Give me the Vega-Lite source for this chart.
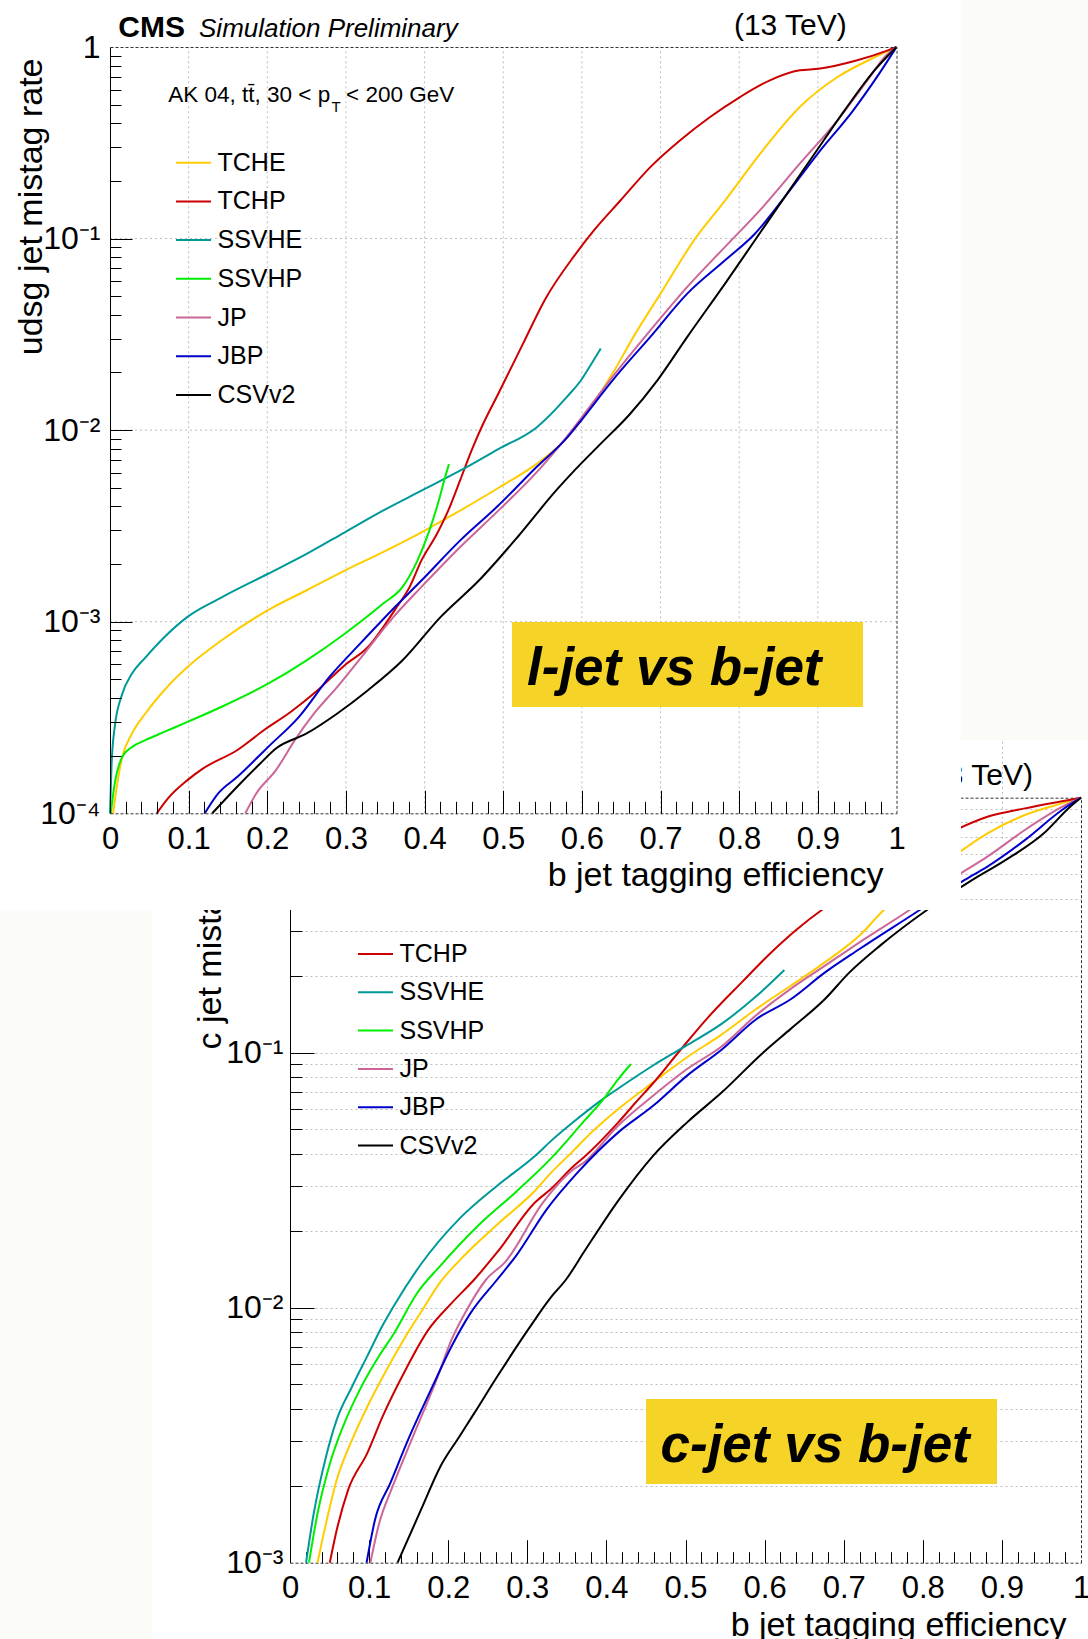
{
"$schema":"https://vega.github.io/schema/vega-lite/v6.json",
"width":1088,"height":1639,"autosize":"none","padding":0,"background":"white",
"config":{"font":"Liberation Sans","view":{"stroke":null},"axis":{"grid":false,"labelColor":"#000","titleColor":"#000","titleFontWeight":"normal","labelFont":"Liberation Sans","titleFont":"Liberation Sans"},"legend":{"labelFont":"Liberation Sans","labelColor":"#000"}},
"datasets":{
"top":[
{"s":"TCHE","x":0.004,"y":0.0001},{"s":"TCHE","x":0.01,"y":0.00015},{"s":"TCHE","x":0.0156,"y":0.000197},{"s":"TCHE","x":0.028,"y":0.000261},{"s":"TCHE","x":0.045,"y":0.000332},{"s":"TCHE","x":0.069,"y":0.000439},{"s":"TCHE","x":0.0985,"y":0.00058},{"s":"TCHE","x":0.142,"y":0.0008},{"s":"TCHE","x":0.201,"y":0.00115},{"s":"TCHE","x":0.25,"y":0.00146},{"s":"TCHE","x":0.2985,"y":0.00185},{"s":"TCHE","x":0.347,"y":0.00231},{"s":"TCHE","x":0.396,"y":0.00293},{"s":"TCHE","x":0.445,"y":0.0038},{"s":"TCHE","x":0.4937,"y":0.00499},{"s":"TCHE","x":0.542,"y":0.00665},{"s":"TCHE","x":0.571,"y":0.0083},{"s":"TCHE","x":0.6057,"y":0.0122},{"s":"TCHE","x":0.639,"y":0.0198},{"s":"TCHE","x":0.668,"y":0.0319},{"s":"TCHE","x":0.7,"y":0.0516},{"s":"TCHE","x":0.744,"y":0.1},{"s":"TCHE","x":0.782,"y":0.158},{"s":"TCHE","x":0.83,"y":0.289},{"s":"TCHE","x":0.877,"y":0.486},{"s":"TCHE","x":0.925,"y":0.697},{"s":"TCHE","x":0.973,"y":0.887},{"s":"TCHE","x":1,"y":1},
{"s":"TCHP","x":0.0595,"y":0.0001},{"s":"TCHP","x":0.074,"y":0.00012},{"s":"TCHP","x":0.0985,"y":0.000149},{"s":"TCHP","x":0.118,"y":0.000171},{"s":"TCHP","x":0.162,"y":0.000214},{"s":"TCHP","x":0.196,"y":0.000272},{"s":"TCHP","x":0.23,"y":0.000339},{"s":"TCHP","x":0.264,"y":0.000439},{"s":"TCHP","x":0.2985,"y":0.000593},{"s":"TCHP","x":0.328,"y":0.000738},{"s":"TCHP","x":0.362,"y":0.00115},{"s":"TCHP","x":0.381,"y":0.00152},{"s":"TCHP","x":0.396,"y":0.00209},{"s":"TCHP","x":0.4156,"y":0.00287},{"s":"TCHP","x":0.43,"y":0.0038},{"s":"TCHP","x":0.445,"y":0.00545},{"s":"TCHP","x":0.4595,"y":0.0078},{"s":"TCHP","x":0.474,"y":0.0107},{"s":"TCHP","x":0.4937,"y":0.0155},{"s":"TCHP","x":0.525,"y":0.0282},{"s":"TCHP","x":0.553,"y":0.048},{"s":"TCHP","x":0.591,"y":0.082},{"s":"TCHP","x":0.615,"y":0.11},{"s":"TCHP","x":0.649,"y":0.158},{"s":"TCHP","x":0.687,"y":0.236},{"s":"TCHP","x":0.725,"y":0.326},{"s":"TCHP","x":0.763,"y":0.431},{"s":"TCHP","x":0.801,"y":0.548},{"s":"TCHP","x":0.839,"y":0.67},{"s":"TCHP","x":0.877,"y":0.756},{"s":"TCHP","x":0.901,"y":0.77},{"s":"TCHP","x":0.949,"y":0.85},{"s":"TCHP","x":0.989,"y":0.96},{"s":"TCHP","x":1,"y":1},
{"s":"SSVHE","x":0.0,"y":0.0001},{"s":"SSVHE","x":0.002,"y":0.00018},{"s":"SSVHE","x":0.006,"y":0.000282},{"s":"SSVHE","x":0.0156,"y":0.00042},{"s":"SSVHE","x":0.028,"y":0.000536},{"s":"SSVHE","x":0.045,"y":0.00065},{"s":"SSVHE","x":0.069,"y":0.00083},{"s":"SSVHE","x":0.0985,"y":0.00106},{"s":"SSVHE","x":0.142,"y":0.00134},{"s":"SSVHE","x":0.201,"y":0.00178},{"s":"SSVHE","x":0.25,"y":0.00226},{"s":"SSVHE","x":0.2985,"y":0.00293},{"s":"SSVHE","x":0.347,"y":0.0038},{"s":"SSVHE","x":0.396,"y":0.00483},{"s":"SSVHE","x":0.445,"y":0.00614},{"s":"SSVHE","x":0.4937,"y":0.00796},{"s":"SSVHE","x":0.542,"y":0.0103},{"s":"SSVHE","x":0.5815,"y":0.015},{"s":"SSVHE","x":0.6,"y":0.0185},{"s":"SSVHE","x":0.61,"y":0.0215},{"s":"SSVHE","x":0.624,"y":0.0267},
{"s":"SSVHP","x":0.001,"y":0.0001},{"s":"SSVHP","x":0.006,"y":0.000143},{"s":"SSVHP","x":0.0156,"y":0.000197},{"s":"SSVHP","x":0.028,"y":0.000222},{"s":"SSVHP","x":0.045,"y":0.000241},{"s":"SSVHP","x":0.069,"y":0.000266},{"s":"SSVHP","x":0.0985,"y":0.0003},{"s":"SSVHP","x":0.142,"y":0.00036},{"s":"SSVHP","x":0.201,"y":0.000475},{"s":"SSVHP","x":0.25,"y":0.000629},{"s":"SSVHP","x":0.2985,"y":0.000866},{"s":"SSVHP","x":0.347,"y":0.00124},{"s":"SSVHP","x":0.372,"y":0.00152},{"s":"SSVHP","x":0.391,"y":0.00209},{"s":"SSVHP","x":0.406,"y":0.00299},{"s":"SSVHP","x":0.418,"y":0.00428},{"s":"SSVHP","x":0.426,"y":0.00567},{"s":"SSVHP","x":0.431,"y":0.00665},
{"s":"JP","x":0.172,"y":0.0001},{"s":"JP","x":0.186,"y":0.000127},{"s":"JP","x":0.211,"y":0.000168},{"s":"JP","x":0.235,"y":0.000241},{"s":"JP","x":0.2595,"y":0.000332},{"s":"JP","x":0.289,"y":0.000457},{"s":"JP","x":0.323,"y":0.00068},{"s":"JP","x":0.357,"y":0.00102},{"s":"JP","x":0.396,"y":0.00152},{"s":"JP","x":0.445,"y":0.00245},{"s":"JP","x":0.4937,"y":0.0038},{"s":"JP","x":0.542,"y":0.006},{"s":"JP","x":0.5766,"y":0.0088},{"s":"JP","x":0.606,"y":0.0126},{"s":"JP","x":0.639,"y":0.019},{"s":"JP","x":0.687,"y":0.0332},{"s":"JP","x":0.734,"y":0.056},{"s":"JP","x":0.782,"y":0.0905},{"s":"JP","x":0.83,"y":0.146},{"s":"JP","x":0.877,"y":0.246},{"s":"JP","x":0.925,"y":0.414},{"s":"JP","x":0.963,"y":0.67},{"s":"JP","x":0.987,"y":0.905},{"s":"JP","x":1,"y":1},
{"s":"JBP","x":0.1205,"y":0.0001},{"s":"JBP","x":0.1376,"y":0.000127},{"s":"JBP","x":0.162,"y":0.000155},{"s":"JBP","x":0.201,"y":0.000222},{"s":"JBP","x":0.24,"y":0.000318},{"s":"JBP","x":0.279,"y":0.000515},{"s":"JBP","x":0.318,"y":0.000768},{"s":"JBP","x":0.362,"y":0.00119},{"s":"JBP","x":0.396,"y":0.00164},{"s":"JBP","x":0.445,"y":0.00265},{"s":"JBP","x":0.4937,"y":0.00404},{"s":"JBP","x":0.542,"y":0.0064},{"s":"JBP","x":0.5815,"y":0.00916},{"s":"JBP","x":0.601,"y":0.0115},{"s":"JBP","x":0.639,"y":0.0182},{"s":"JBP","x":0.687,"y":0.0307},{"s":"JBP","x":0.734,"y":0.0516},{"s":"JBP","x":0.782,"y":0.077},{"s":"JBP","x":0.82,"y":0.106},{"s":"JBP","x":0.858,"y":0.165},{"s":"JBP","x":0.9,"y":0.278},{"s":"JBP","x":0.945,"y":0.467},{"s":"JBP","x":0.978,"y":0.726},{"s":"JBP","x":1,"y":1},
{"s":"CSVv2","x":0.13,"y":0.0001},{"s":"CSVv2","x":0.162,"y":0.000138},{"s":"CSVv2","x":0.191,"y":0.000182},{"s":"CSVv2","x":0.211,"y":0.000218},{"s":"CSVv2","x":0.25,"y":0.000261},{"s":"CSVv2","x":0.289,"y":0.000332},{"s":"CSVv2","x":0.328,"y":0.000439},{"s":"CSVv2","x":0.372,"y":0.000629},{"s":"CSVv2","x":0.4205,"y":0.00106},{"s":"CSVv2","x":0.469,"y":0.00164},{"s":"CSVv2","x":0.518,"y":0.00276},{"s":"CSVv2","x":0.567,"y":0.00483},{"s":"CSVv2","x":0.5912,"y":0.0062},{"s":"CSVv2","x":0.624,"y":0.0085},{"s":"CSVv2","x":0.66,"y":0.012},{"s":"CSVv2","x":0.696,"y":0.0182},{"s":"CSVv2","x":0.734,"y":0.0307},{"s":"CSVv2","x":0.782,"y":0.0582},{"s":"CSVv2","x":0.82,"y":0.098},{"s":"CSVv2","x":0.858,"y":0.165},{"s":"CSVv2","x":0.896,"y":0.278},{"s":"CSVv2","x":0.934,"y":0.467},{"s":"CSVv2","x":0.972,"y":0.755},{"s":"CSVv2","x":1,"y":1}
],
"bot":[
{"s":"TCHE","x":0.0348,"y":0.001},{"s":"TCHE","x":0.0445,"y":0.00138},{"s":"TCHE","x":0.059,"y":0.00211},{"s":"TCHE","x":0.0784,"y":0.00303},{"s":"TCHE","x":0.0977,"y":0.00409},{"s":"TCHE","x":0.122,"y":0.0057},{"s":"TCHE","x":0.146,"y":0.0077},{"s":"TCHE","x":0.1655,"y":0.0096},{"s":"TCHE","x":0.19,"y":0.0126},{"s":"TCHE","x":0.214,"y":0.0153},{"s":"TCHE","x":0.262,"y":0.0212},{"s":"TCHE","x":0.31,"y":0.0288},{"s":"TCHE","x":0.3287,"y":0.0335},{"s":"TCHE","x":0.359,"y":0.0415},{"s":"TCHE","x":0.372,"y":0.0457},{"s":"TCHE","x":0.415,"y":0.0601},{"s":"TCHE","x":0.459,"y":0.0765},{"s":"TCHE","x":0.502,"y":0.096},{"s":"TCHE","x":0.546,"y":0.118},{"s":"TCHE","x":0.589,"y":0.148},{"s":"TCHE","x":0.633,"y":0.183},{"s":"TCHE","x":0.676,"y":0.226},{"s":"TCHE","x":0.72,"y":0.288},{"s":"TCHE","x":0.752,"y":0.366},{"s":"TCHE","x":0.8,"y":0.47},{"s":"TCHE","x":0.8415,"y":0.596},{"s":"TCHE","x":0.8817,"y":0.725},{"s":"TCHE","x":0.929,"y":0.855},{"s":"TCHE","x":0.976,"y":0.95},{"s":"TCHE","x":1,"y":1},
{"s":"TCHP","x":0.0503,"y":0.001},{"s":"TCHP","x":0.059,"y":0.00134},{"s":"TCHP","x":0.0735,"y":0.00193},{"s":"TCHP","x":0.0977,"y":0.00269},{"s":"TCHP","x":0.117,"y":0.00374},{"s":"TCHP","x":0.146,"y":0.0057},{"s":"TCHP","x":0.175,"y":0.0082},{"s":"TCHP","x":0.204,"y":0.0104},{"s":"TCHP","x":0.233,"y":0.0129},{"s":"TCHP","x":0.262,"y":0.0165},{"s":"TCHP","x":0.31,"y":0.0259},{"s":"TCHP","x":0.3287,"y":0.029},{"s":"TCHP","x":0.359,"y":0.036},{"s":"TCHP","x":0.372,"y":0.039},{"s":"TCHP","x":0.415,"y":0.0533},{"s":"TCHP","x":0.437,"y":0.0638},{"s":"TCHP","x":0.459,"y":0.0759},{"s":"TCHP","x":0.493,"y":0.102},{"s":"TCHP","x":0.528,"y":0.137},{"s":"TCHP","x":0.572,"y":0.19},{"s":"TCHP","x":0.607,"y":0.245},{"s":"TCHP","x":0.641,"y":0.305},{"s":"TCHP","x":0.674,"y":0.366},{"s":"TCHP","x":0.72,"y":0.45},{"s":"TCHP","x":0.78,"y":0.58},{"s":"TCHP","x":0.8415,"y":0.747},{"s":"TCHP","x":0.8817,"y":0.842},{"s":"TCHP","x":0.929,"y":0.908},{"s":"TCHP","x":1,"y":1},
{"s":"SSVHE","x":0.0203,"y":0.001},{"s":"SSVHE","x":0.03,"y":0.00156},{"s":"SSVHE","x":0.0445,"y":0.00253},{"s":"SSVHE","x":0.059,"y":0.00363},{"s":"SSVHE","x":0.0784,"y":0.0049},{"s":"SSVHE","x":0.0977,"y":0.00646},{"s":"SSVHE","x":0.117,"y":0.00851},{"s":"SSVHE","x":0.1316,"y":0.0102},{"s":"SSVHE","x":0.1655,"y":0.0148},{"s":"SSVHE","x":0.214,"y":0.0223},{"s":"SSVHE","x":0.262,"y":0.0301},{"s":"SSVHE","x":0.31,"y":0.0394},{"s":"SSVHE","x":0.3287,"y":0.0447},{"s":"SSVHE","x":0.359,"y":0.0537},{"s":"SSVHE","x":0.392,"y":0.0646},{"s":"SSVHE","x":0.415,"y":0.0724},{"s":"SSVHE","x":0.459,"y":0.0891},{"s":"SSVHE","x":0.502,"y":0.107},{"s":"SSVHE","x":0.546,"y":0.13},{"s":"SSVHE","x":0.589,"y":0.166},{"s":"SSVHE","x":0.625,"y":0.211},
{"s":"SSVHP","x":0.024,"y":0.001},{"s":"SSVHP","x":0.0348,"y":0.00156},{"s":"SSVHP","x":0.0493,"y":0.00238},{"s":"SSVHP","x":0.0687,"y":0.00352},{"s":"SSVHP","x":0.088,"y":0.00475},{"s":"SSVHP","x":0.112,"y":0.00642},{"s":"SSVHP","x":0.1316,"y":0.00794},{"s":"SSVHP","x":0.1606,"y":0.0114},{"s":"SSVHP","x":0.19,"y":0.0146},{"s":"SSVHP","x":0.238,"y":0.021},{"s":"SSVHP","x":0.286,"y":0.0285},{"s":"SSVHP","x":0.33,"y":0.0385},{"s":"SSVHP","x":0.372,"y":0.054},{"s":"SSVHP","x":0.395,"y":0.065},{"s":"SSVHP","x":0.415,"y":0.0788},{"s":"SSVHP","x":0.431,"y":0.0903},
{"s":"JP","x":0.1016,"y":0.001},{"s":"JP","x":0.112,"y":0.0014},{"s":"JP","x":0.13,"y":0.002},{"s":"JP","x":0.155,"y":0.0031},{"s":"JP","x":0.185,"y":0.0052},{"s":"JP","x":0.204,"y":0.00746},{"s":"JP","x":0.225,"y":0.01},{"s":"JP","x":0.248,"y":0.0129},{"s":"JP","x":0.272,"y":0.0151},{"s":"JP","x":0.32,"y":0.0259},{"s":"JP","x":0.359,"y":0.035},{"s":"JP","x":0.372,"y":0.0372},{"s":"JP","x":0.415,"y":0.0518},{"s":"JP","x":0.459,"y":0.0678},{"s":"JP","x":0.502,"y":0.0863},{"s":"JP","x":0.546,"y":0.106},{"s":"JP","x":0.589,"y":0.14},{"s":"JP","x":0.633,"y":0.178},{"s":"JP","x":0.676,"y":0.219},{"s":"JP","x":0.72,"y":0.271},{"s":"JP","x":0.785,"y":0.366},{"s":"JP","x":0.8415,"y":0.49},{"s":"JP","x":0.8817,"y":0.587},{"s":"JP","x":0.929,"y":0.747},{"s":"JP","x":0.976,"y":0.92},{"s":"JP","x":1,"y":1},
{"s":"JBP","x":0.0968,"y":0.001},{"s":"JBP","x":0.1074,"y":0.00147},{"s":"JBP","x":0.1268,"y":0.00205},{"s":"JBP","x":0.151,"y":0.00312},{"s":"JBP","x":0.18,"y":0.0049},{"s":"JBP","x":0.204,"y":0.00703},{"s":"JBP","x":0.228,"y":0.0095},{"s":"JBP","x":0.262,"y":0.0129},{"s":"JBP","x":0.286,"y":0.016},{"s":"JBP","x":0.325,"y":0.0244},{"s":"JBP","x":0.364,"y":0.034},{"s":"JBP","x":0.415,"y":0.0487},{"s":"JBP","x":0.459,"y":0.0619},{"s":"JBP","x":0.502,"y":0.0813},{"s":"JBP","x":0.546,"y":0.103},{"s":"JBP","x":0.589,"y":0.135},{"s":"JBP","x":0.633,"y":0.162},{"s":"JBP","x":0.676,"y":0.206},{"s":"JBP","x":0.72,"y":0.255},{"s":"JBP","x":0.798,"y":0.366},{"s":"JBP","x":0.853,"y":0.476},{"s":"JBP","x":0.8817,"y":0.537},{"s":"JBP","x":0.929,"y":0.682},{"s":"JBP","x":0.976,"y":0.895},{"s":"JBP","x":1,"y":1},
{"s":"CSVv2","x":0.136,"y":0.001},{"s":"CSVv2","x":0.1655,"y":0.00161},{"s":"CSVv2","x":0.19,"y":0.00238},{"s":"CSVv2","x":0.214,"y":0.00312},{"s":"CSVv2","x":0.233,"y":0.00386},{"s":"CSVv2","x":0.262,"y":0.00537},{"s":"CSVv2","x":0.301,"y":0.0082},{"s":"CSVv2","x":0.33,"y":0.011},{"s":"CSVv2","x":0.349,"y":0.0129},{"s":"CSVv2","x":0.372,"y":0.0166},{"s":"CSVv2","x":0.415,"y":0.0263},{"s":"CSVv2","x":0.459,"y":0.0394},{"s":"CSVv2","x":0.502,"y":0.0533},{"s":"CSVv2","x":0.546,"y":0.0699},{"s":"CSVv2","x":0.598,"y":0.1},{"s":"CSVv2","x":0.633,"y":0.124},{"s":"CSVv2","x":0.676,"y":0.162},{"s":"CSVv2","x":0.707,"y":0.206},{"s":"CSVv2","x":0.746,"y":0.263},{"s":"CSVv2","x":0.807,"y":0.366},{"s":"CSVv2","x":0.8627,"y":0.476},{"s":"CSVv2","x":0.905,"y":0.57},{"s":"CSVv2","x":0.953,"y":0.725},{"s":"CSVv2","x":0.986,"y":0.92},{"s":"CSVv2","x":1,"y":1}
],
"tgx":[{"g":0.1},{"g":0.2},{"g":0.3},{"g":0.4},{"g":0.5},{"g":0.6},{"g":0.7},{"g":0.8},{"g":0.9}],
"tgy":[{"g":0.001},{"g":0.01},{"g":0.1}]
},
"layer":[
{
"layer":[
{"data":{"values":[{}]},"mark":{"type":"rect","color":"#fbfcf7"},
"encoding":{
"x":{"datum":-0.5,"type":"quantitative","scale":{"domain":[0,1],"range":[290,1081],"nice":false,"zero":false},
"axis":{"orient":"bottom","offset":-76.3,"values":[0,0.1,0.2,0.3,0.4,0.5,0.6,0.7,0.8,0.9,1],"labelExpr":"datum.value == 0 ? '0' : datum.value > 0.99 ? '1' : format(datum.value, '.1f')","labelFontSize":31,"labelPadding":11,"labelFlush":false,"labelOverlap":false,"ticks":false,"domain":true,"domainColor":"#333","domainDash":[3,2],"grid":false,"title":"b jet tagging efficiency","titleFontSize":34,"titleAlign":"right","titleBaseline":"alphabetic","titleX":1066,"titleY":72.3,"zindex":0}},
"x2":{"datum":-0.1745},
"y":{"datum":0.0001,"type":"quantitative","scale":{"type":"log","domain":[0.001,1],"range":[1562.7,797.7],"nice":false},
"axis":{"orient":"left","offset":-290,"values":[0.001,0.01,0.1,1],"labelExpr":"datum.value > 0.5 ? '1' : '10' + (datum.value > 0.05 ? '⁻¹' : datum.value > 0.005 ? '⁻²' : datum.value > 0.0005 ? '⁻³' : '⁻⁴')","labelFontSize":32,"labelPadding":7,"labelOverlap":false,"labelFlush":false,"ticks":false,"domain":true,"domainColor":"#000","grid":false,"title":"c jet mistag rate","titleFontSize":34,"titleAngle":270,"titleAlign":"right","titleBaseline":"alphabetic","titleX":-70,"titleY":809,"zindex":0}},
"y2":{"datum":0.3627}}},
{"data":{"values":[{}]},"mark":{"type":"rect","color":"#fbfcf7"},
"encoding":{
"x":{"datum":0.8483,"type":"quantitative","scale":{"domain":[0,1],"range":[290,1081],"nice":false,"zero":false},"axis":null},
"x2":{"datum":1.3},
"y":{"datum":1.684,"type":"quantitative","scale":{"type":"log","domain":[0.001,1],"range":[1562.7,797.7],"nice":false},"axis":null},
"y2":{"datum":2000}}},
{"data":{"name":"bot"},"mark":{"type":"line","strokeWidth":2,"interpolate":"monotone"},
"encoding":{
"x":{"field":"x","type":"quantitative","scale":{"domain":[0,1],"range":[290,1081],"nice":false,"zero":false},
"axis":{"orient":"bottom","offset":-76.3,"values":[0.1,0.2,0.3,0.4,0.5,0.6,0.7,0.8,0.9],"labels":false,"ticks":true,"tickSize":-23,"tickColor":"#000","domain":false,"grid":true,"gridDash":[2,3],"gridColor":"#bdbdbd","title":null,"zindex":0}},
"y":{"field":"y","type":"quantitative","scale":{"type":"log","domain":[0.001,1],"range":[1562.7,797.7],"nice":false},
"axis":{"orient":"left","offset":-290,"values":[0.01,0.1],"labels":false,"ticks":true,"tickSize":-24,"tickColor":"#000","domain":false,"grid":false,"title":null,"zindex":0}},
"color":{"field":"s","type":"nominal","scale":{"domain":["TCHE","TCHP","SSVHE","SSVHP","JP","JBP","CSVv2"],"range":["#ffcc00","#cc0000","#009999","#00ee00","#cc6699","#0000cc","#000000"]},
"legend":{"orient":"none","legendX":357,"legendY":935.5,"values":["TCHP","SSVHE","SSVHP","JP","JBP","CSVv2"],"title":null,"symbolType":"stroke","symbolSize":1225,"symbolStrokeWidth":2,"labelFontSize":25,"labelOffset":5.5,"rowPadding":6.3,"padding":0}}}},
{"data":{"values":[{}]},"mark":{"type":"rect","color":"#f5d327"},
"encoding":{
"x":{"datum":0.4501,"type":"quantitative","scale":{"domain":[0,1],"range":[290,1081],"nice":false,"zero":false},
"axis":{"orient":"bottom","offset":-76.3,"values":[0.02,0.04,0.06,0.08,0.12,0.14,0.16,0.18,0.22,0.24,0.26,0.28,0.32,0.34,0.36,0.38,0.42,0.44,0.46,0.48,0.52,0.54,0.56,0.58,0.62,0.64,0.66,0.68,0.72,0.74,0.76,0.78,0.82,0.84,0.86,0.88,0.92,0.94,0.96,0.98],"labels":false,"ticks":true,"tickSize":-11,"tickColor":"#000","domain":false,"grid":false,"title":null,"zindex":0}},
"x2":{"datum":0.8938},
"y":{"datum":0.002037,"type":"quantitative","scale":{"type":"log","domain":[0.001,1],"range":[1562.7,797.7],"nice":false},
"axis":{"orient":"left","offset":-290,"values":[0.002,0.003,0.004,0.005,0.006,0.007,0.008,0.009,0.01,0.02,0.03,0.04,0.05,0.06,0.07,0.08,0.09,0.1,0.2,0.3,0.4,0.5,0.6,0.7,0.8,0.9],"labels":false,"ticks":true,"tickSize":-12,"tickColor":"#000","domain":false,"grid":true,"gridDash":[2,3],"gridColor":"#bdbdbd","title":null,"zindex":0}},
"y2":{"datum":0.004385}}},
{"data":{"values":[{"t":"c-jet vs b-jet"}]},"mark":{"type":"text","align":"left","baseline":"alphabetic","fontSize":53,"fontWeight":"bold","fontStyle":"italic","color":"#000"},
"encoding":{
"text":{"field":"t"},
"x":{"datum":0.4684,"type":"quantitative","scale":{"domain":[0,1],"range":[290,1081],"nice":false,"zero":false},
"axis":{"orient":"top","offset":-797.7,"labels":false,"ticks":false,"domain":true,"domainColor":"#333","domainDash":[3,2],"grid":false,"title":null,"zindex":0}},
"y":{"datum":0.00249,"type":"quantitative","scale":{"type":"log","domain":[0.001,1],"range":[1562.7,797.7],"nice":false},
"axis":{"orient":"right","offset":-7,"labels":false,"ticks":false,"domain":true,"domainColor":"#333","domainDash":[3,2],"grid":false,"title":null,"zindex":0}}}},
{"data":{"values":[{"t":"(13 TeV)"}]},"mark":{"type":"text","align":"right","baseline":"alphabetic","fontSize":30,"color":"#000"},
"encoding":{
"text":{"field":"t"},
"x":{"datum":0.9393,"type":"quantitative","scale":{"domain":[0,1],"range":[290,1081],"nice":false,"zero":false},"axis":null},
"y":{"datum":1.1215,"type":"quantitative","scale":{"type":"log","domain":[0.001,1],"range":[1562.7,797.7],"nice":false},"axis":null}}}
],
"resolve":{"axis":{"x":"independent","y":"independent"}}
},
{
"layer":[
{"data":{"values":[{}]},"mark":{"type":"rect","color":"#ffffff"},
"encoding":{
"x":{"datum":-0.15,"type":"quantitative","scale":{"domain":[0,1],"range":[110,896.5],"nice":false,"zero":false},
"axis":{"orient":"bottom","offset":-825.7,"values":[0,0.1,0.2,0.3,0.4,0.5,0.6,0.7,0.8,0.9,1],"labelExpr":"datum.value == 0 ? '0' : datum.value > 0.99 ? '1' : format(datum.value, '.1f')","labelFontSize":31,"labelPadding":11,"labelFlush":false,"labelOverlap":false,"ticks":false,"domain":true,"domainColor":"#333","domainDash":[3,2],"grid":false,"title":"b jet tagging efficiency","titleFontSize":34,"titleAlign":"right","titleBaseline":"alphabetic","titleX":883,"titleY":71.7,"zindex":1}},
"x2":{"datum":1.082},
"y":{"datum":0.0000313,"type":"quantitative","scale":{"type":"log","domain":[0.0001,1],"range":[813.3,47],"nice":false},
"axis":{"orient":"left","offset":-110,"values":[0.0001,0.001,0.01,0.1,1],"labelExpr":"datum.value > 0.5 ? '1' : '10' + (datum.value > 0.05 ? '⁻¹' : datum.value > 0.005 ? '⁻²' : datum.value > 0.0005 ? '⁻³' : '⁻⁴')","labelFontSize":32,"labelPadding":10,"labelOverlap":false,"labelFlush":false,"ticks":false,"domain":true,"domainColor":"#000","grid":false,"title":"udsg jet mistag rate","titleFontSize":34,"titleAngle":270,"titleAlign":"right","titleBaseline":"alphabetic","titleX":-69,"titleY":58,"zindex":1}},
"y2":{"datum":2}}},
{"data":{"name":"tgx"},"mark":{"type":"rule","color":"#bdbdbd","strokeDash":[2,3],"strokeWidth":1},
"encoding":{
"x":{"field":"g","type":"quantitative","scale":{"domain":[0,1],"range":[110,896.5],"nice":false,"zero":false},
"axis":{"orient":"bottom","offset":-825.7,"values":[0.1,0.2,0.3,0.4,0.5,0.6,0.7,0.8,0.9],"labels":false,"ticks":true,"tickSize":-23,"tickColor":"#000","domain":false,"grid":false,"title":null,"zindex":1}},
"y":{"datum":0.0001,"type":"quantitative","scale":{"type":"log","domain":[0.0001,1],"range":[813.3,47],"nice":false},
"axis":{"orient":"left","offset":-110,"values":[0.001,0.01,0.1],"labels":false,"ticks":true,"tickSize":-22,"tickColor":"#000","domain":false,"grid":false,"title":null,"zindex":1}},
"y2":{"datum":1}}},
{"data":{"name":"tgy"},"mark":{"type":"rule","color":"#bdbdbd","strokeDash":[2,3],"strokeWidth":1},
"encoding":{
"y":{"field":"g","type":"quantitative","scale":{"type":"log","domain":[0.0001,1],"range":[813.3,47],"nice":false},
"axis":{"orient":"left","offset":-110,"values":[0.0002,0.0003,0.0004,0.0005,0.0006,0.0007,0.0008,0.0009,0.002,0.003,0.004,0.005,0.006,0.007,0.008,0.009,0.02,0.03,0.04,0.05,0.06,0.07,0.08,0.09,0.2,0.3,0.4,0.5,0.6,0.7,0.8,0.9],"labels":false,"ticks":true,"tickSize":-11,"tickColor":"#000","domain":false,"grid":false,"title":null,"zindex":1}},
"x":{"datum":0,"type":"quantitative","scale":{"domain":[0,1],"range":[110,896.5],"nice":false,"zero":false},
"axis":{"orient":"bottom","offset":-825.7,"values":[0.02,0.04,0.06,0.08,0.12,0.14,0.16,0.18,0.22,0.24,0.26,0.28,0.32,0.34,0.36,0.38,0.42,0.44,0.46,0.48,0.52,0.54,0.56,0.58,0.62,0.64,0.66,0.68,0.72,0.74,0.76,0.78,0.82,0.84,0.86,0.88,0.92,0.94,0.96,0.98],"labels":false,"ticks":true,"tickSize":-12,"tickColor":"#000","domain":false,"grid":false,"title":null,"zindex":1}},
"x2":{"datum":1}}},
{"data":{"name":"top"},"mark":{"type":"line","strokeWidth":2,"interpolate":"monotone"},
"encoding":{
"x":{"field":"x","type":"quantitative","scale":{"domain":[0,1],"range":[110,896.5],"nice":false,"zero":false},
"axis":{"orient":"top","offset":-47,"labels":false,"ticks":false,"domain":true,"domainColor":"#333","domainDash":[3,2],"grid":false,"title":null,"zindex":1}},
"y":{"field":"y","type":"quantitative","scale":{"type":"log","domain":[0.0001,1],"range":[813.3,47],"nice":false},
"axis":{"orient":"right","offset":-191.5,"labels":false,"ticks":false,"domain":true,"domainColor":"#333","domainDash":[3,2],"grid":false,"title":null,"zindex":1}},
"color":{"field":"s","type":"nominal","scale":{"domain":["TCHE","TCHP","SSVHE","SSVHP","JP","JBP","CSVv2"],"range":["#ffcc00","#cc0000","#009999","#00ee00","#cc6699","#0000cc","#000000"]},
"legend":{"orient":"none","legendX":175,"legendY":144.2,"title":null,"symbolType":"stroke","symbolSize":1225,"symbolStrokeWidth":2,"labelFontSize":25,"labelOffset":5.5,"rowPadding":6.7,"padding":0}}}},
{"data":{"values":[{}]},"mark":{"type":"rect","color":"#f5d327"},
"encoding":{
"x":{"datum":0.5111,"type":"quantitative","scale":{"domain":[0,1],"range":[110,896.5],"nice":false,"zero":false},"axis":null},
"x2":{"datum":0.9574},
"y":{"datum":0.000359,"type":"quantitative","scale":{"type":"log","domain":[0.0001,1],"range":[813.3,47],"nice":false},"axis":null},
"y2":{"datum":0.000997}}},
{"data":{"values":[{"t":"l-jet vs b-jet"}]},"mark":{"type":"text","align":"left","baseline":"alphabetic","fontSize":53,"fontWeight":"bold","fontStyle":"italic","color":"#000"},
"encoding":{"text":{"field":"t"},
"x":{"datum":0.5302,"type":"quantitative","scale":{"domain":[0,1],"range":[110,896.5],"nice":false,"zero":false},"axis":null},
"y":{"datum":0.000468,"type":"quantitative","scale":{"type":"log","domain":[0.0001,1],"range":[813.3,47],"nice":false},"axis":null}}},
{"data":{"values":[{"t":"CMS"}]},"mark":{"type":"text","align":"left","baseline":"alphabetic","fontSize":30,"fontWeight":"bold","color":"#000"},
"encoding":{"text":{"field":"t"},
"x":{"datum":0.0105,"type":"quantitative","scale":{"domain":[0,1],"range":[110,896.5],"nice":false,"zero":false},"axis":null},
"y":{"datum":1.132,"type":"quantitative","scale":{"type":"log","domain":[0.0001,1],"range":[813.3,47],"nice":false},"axis":null}}},
{"data":{"values":[{"t":"Simulation Preliminary"}]},"mark":{"type":"text","align":"left","baseline":"alphabetic","fontSize":26,"fontStyle":"italic","color":"#000"},
"encoding":{"text":{"field":"t"},
"x":{"datum":0.1132,"type":"quantitative","scale":{"domain":[0,1],"range":[110,896.5],"nice":false,"zero":false},"axis":null},
"y":{"datum":1.132,"type":"quantitative","scale":{"type":"log","domain":[0.0001,1],"range":[813.3,47],"nice":false},"axis":null}}},
{"data":{"values":[{"t":"(13 TeV)"}]},"mark":{"type":"text","align":"right","baseline":"alphabetic","fontSize":30,"color":"#000"},
"encoding":{"text":{"field":"t"},
"x":{"datum":0.9368,"type":"quantitative","scale":{"domain":[0,1],"range":[110,896.5],"nice":false,"zero":false},"axis":null},
"y":{"datum":1.155,"type":"quantitative","scale":{"type":"log","domain":[0.0001,1],"range":[813.3,47],"nice":false},"axis":null}}},
{"data":{"values":[{"t":"AK 04, tt̄, 30 < p"}]},"mark":{"type":"text","align":"left","baseline":"alphabetic","fontSize":22.5,"color":"#000"},
"encoding":{"text":{"field":"t"},
"x":{"datum":0.0741,"type":"quantitative","scale":{"domain":[0,1],"range":[110,896.5],"nice":false,"zero":false},"axis":null},
"y":{"datum":0.518,"type":"quantitative","scale":{"type":"log","domain":[0.0001,1],"range":[813.3,47],"nice":false},"axis":null}}},
{"data":{"values":[{"t":"T"}]},"mark":{"type":"text","align":"left","baseline":"alphabetic","fontSize":15,"color":"#000"},
"encoding":{"text":{"field":"t"},
"x":{"datum":0.2816,"type":"quantitative","scale":{"domain":[0,1],"range":[110,896.5],"nice":false,"zero":false},"axis":null},
"y":{"datum":0.458,"type":"quantitative","scale":{"type":"log","domain":[0.0001,1],"range":[813.3,47],"nice":false},"axis":null}}},
{"data":{"values":[{"t":"< 200 GeV"}]},"mark":{"type":"text","align":"left","baseline":"alphabetic","fontSize":22.5,"color":"#000"},
"encoding":{"text":{"field":"t"},
"x":{"datum":0.3001,"type":"quantitative","scale":{"domain":[0,1],"range":[110,896.5],"nice":false,"zero":false},"axis":null},
"y":{"datum":0.518,"type":"quantitative","scale":{"type":"log","domain":[0.0001,1],"range":[813.3,47],"nice":false},"axis":null}}}
],
"resolve":{"axis":{"x":"independent","y":"independent"}}
}
],
"resolve":{"scale":{"x":"independent","y":"independent","color":"independent"},"axis":{"x":"independent","y":"independent"},"legend":{"color":"independent"}}
}
